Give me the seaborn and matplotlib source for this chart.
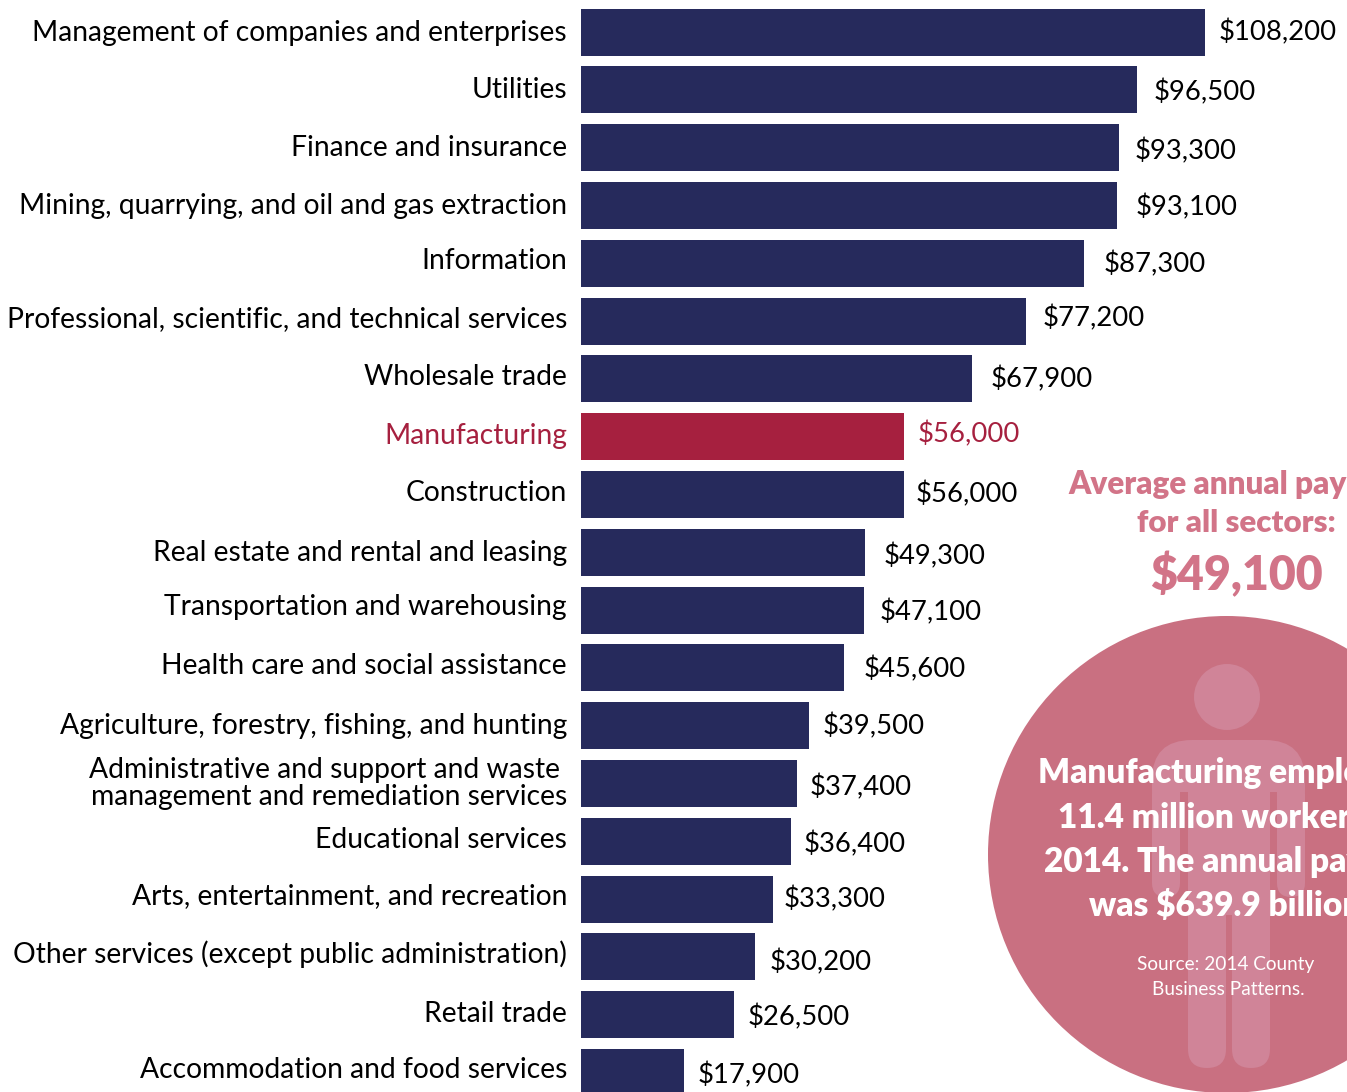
import pandas as pd
import matplotlib.pyplot as plt
import seaborn as sns
from matplotlib.patches import Circle, FancyBboxPatch, Rectangle
from matplotlib.transforms import ScaledTranslation

sectors = [
    "Management of companies and enterprises", "Utilities", "Finance and insurance",
    "Mining, quarrying, and oil and gas extraction", "Information",
    "Professional, scientific, and technical services", "Wholesale trade",
    "Manufacturing", "Construction", "Real estate and rental and leasing",
    "Transportation and warehousing", "Health care and social assistance",
    "Agriculture, forestry, fishing, and hunting",
    "Administrative and support and waste \nmanagement and remediation services",
    "Educational services", "Arts, entertainment, and recreation",
    "Other services (except public administration)", "Retail trade",
    "Accommodation and food services",
]
# bar lengths as drawn; the Transportation bar is longer than its printed label
bar_lengths = [108200, 96500, 93300, 93100, 87300, 77200, 67900, 56000, 56000, 49300,
               49100, 45600, 39500, 37400, 36400, 33300, 30200, 26500, 17900]
pay_labels = ["$108,200", "$96,500", "$93,300", "$93,100", "$87,300", "$77,200", "$67,900",
              "$56,000", "$56,000", "$49,300", "$47,100", "$45,600", "$39,500", "$37,400",
              "$36,400", "$33,300", "$30,200", "$26,500", "$17,900"]

# hand placement of the labels in the original, in pixels
label_left = [1219, 1154, 1135, 1136, 1104, 1043, 991, 918, 916, 884, 880, 864, 823, 810, 804, 784, 770, 748, 698]
pay_dy = [0, 2, 4, 2, 1, -3, 0, -2, 0, 4, 2, 1, 1, 4, 3, 0, 5, 3, 3]
sector_dy = [-2, -2, -2, -2, -5, -4, -4, -3, -4, -2, -5, -4, -2, -3, -4, -5, -5, -3, -5]

navy = "#262A5C"
red = "#A6203F"
pink = "#C97081"
pale = "#D08498"
title_pink = "#D27488"
FONT = "Lato"
W, H = 1347, 1092
PX = 0.72  # points per pixel at dpi 100

plt.rcParams['font.family'] = [FONT, 'DejaVu Sans']

df = pd.DataFrame({"sector": sectors, "pay": bar_lengths})
colors = {s: (red if s == "Manufacturing" else navy) for s in sectors}

fig = plt.figure(figsize=(W / 100, H / 100), dpi=100)

# circle and figure sit behind, in pixel coordinates
bg = fig.add_axes([0, 0, 1, 1], zorder=0)
bg.set_xlim(0, W)
bg.set_ylim(H, 0)
bg.axis("off")
bg.add_patch(Circle((1226.5, 854.5), 238.5, color=pink, lw=0))
bg.add_patch(Circle((1227, 697), 33, color=pale, lw=0))


def rounded(x0, y0, x1, y1, r, color=pale):
    bg.add_patch(FancyBboxPatch((x0 + r, y0 + r), x1 - x0 - 2 * r, y1 - y0 - 2 * r,
                                boxstyle=f"round,pad={r},rounding_size={r}", color=color, lw=0))


rounded(1152, 740, 1305, 830, 40)
rounded(1152, 780, 1180, 897, 14)
rounded(1277, 780, 1305, 897, 14)
bg.add_patch(Rectangle((1180, 792), 8, 120, color=pink, lw=0))
bg.add_patch(Rectangle((1270, 792), 7, 120, color=pink, lw=0))
rounded(1188, 890, 1226, 1068, 19)
rounded(1232, 890, 1270, 1068, 19)
bg.add_patch(Rectangle((1188, 780), 82, 135, color=pale, lw=0))

# the right edge cuts these lines in the original too
bg.text(1068, 494, "Average annual pay", color=title_pink, fontsize=22.7, fontweight=800)
bg.text(1236, 532, "for all sectors:", color=title_pink, fontsize=22.5, fontweight=800, ha="center")
bg.text(1236, 590, "$49,100", color=title_pink, fontsize=33.5, fontweight=800, ha="center")
for x, y, line in [(1038, 783, "Manufacturing employed"), (1058, 828, "11.4 million workers in"),
                   (1044, 872, "2014. The annual payroll"), (1089, 916, "was $639.9 billion.")]:
    bg.text(x, y, line, color="white", fontsize=24, fontweight=800)
bg.text(1226, 970, "Source: 2014 County", color="white", fontsize=13.7, ha="center")
bg.text(1228, 995, "Business Patterns.", color="white", fontsize=13.7, ha="center")

# bars, axes start where the bars start
ax = fig.add_axes([581 / W, 0, (W - 581) / W, 1], zorder=1)
ax.patch.set_alpha(0)
sns.barplot(data=df, x="pay", y="sector", hue="sector", palette=colors, dodge=False,
            legend=False, saturation=1, width=47 / 57.8, ax=ax)
px_per_dollar = 623.5 / 108200
ax.set_xlim(0, (W - 581) / px_per_dollar)
ax.set_ylim((H - 32) / 57.8, -32 / 57.8)
sns.despine(ax=ax, left=True, bottom=True)
ax.set_xlabel("")
ax.set_ylabel("")
ax.set_xticks([])
ax.tick_params(axis="y", length=0, pad=14 * PX, labelsize=20.3)

for i, tick in enumerate(ax.get_yticklabels()):
    tick.set_color(red if sectors[i] == "Manufacturing" else "black")
    tick.set_linespacing(1.03)
    tick.set_transform(tick.get_transform() + ScaledTranslation(0, -sector_dy[i] / 100, fig.dpi_scale_trans))

for i, label in enumerate(pay_labels):
    ax.annotate(label, xy=(0, i), xytext=((label_left[i] - 581) * PX, -pay_dy[i] * PX),
                textcoords="offset points", ha="left", va="center", fontsize=19.7,
                color=red if sectors[i] == "Manufacturing" else "black", annotation_clip=False)

fig.savefig("out.png", dpi=100)
